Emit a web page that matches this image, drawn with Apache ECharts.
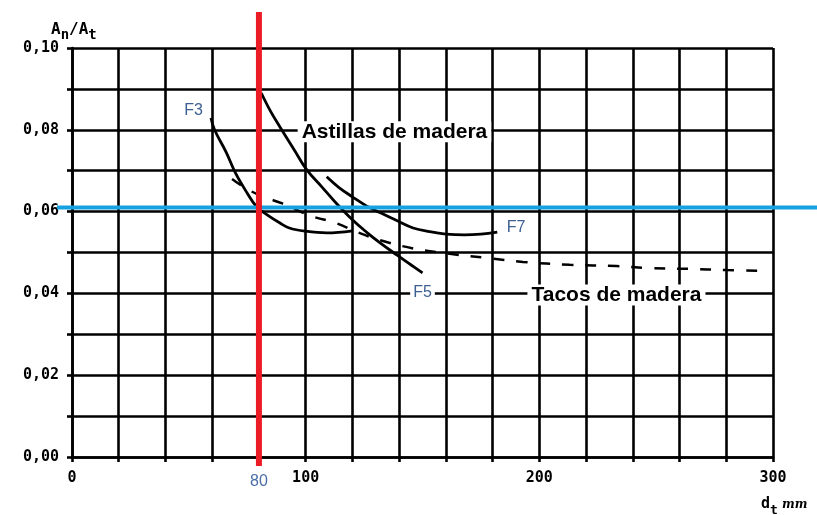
<!DOCTYPE html>
<html>
<head>
<meta charset="utf-8">
<script src="https://cdn.jsdelivr.net/npm/echarts@6/dist/echarts.min.js"></script>
<style>html,body{margin:0;padding:0;background:#fff}#c{width:817px;height:515px}</style>
</head>
<body>
<div id="c"></div>
<script>
// ---- data ----
const f3 = [[59.5,0.0829],[61,0.0800],[66,0.0745],[70,0.0694],[75,0.0645],[79,0.0612],[84,0.0590],[89,0.0572],[93,0.0560],[100,0.0552],[109,0.0548],[120,0.0553]];
const f5 = [[81,0.0890],[85,0.0845],[89,0.0807],[95,0.0752],[100.5,0.0702],[107,0.0660],[113,0.0621],[120,0.0580],[126,0.0550],[132,0.0523],[139,0.0494],[145,0.0470],[150,0.0450]];
const f7 = [[109,0.0685],[114,0.0660],[120,0.0636],[126,0.0614],[132,0.0597],[139,0.0578],[146,0.0560],[153,0.0551],[160,0.0545],[168,0.0543],[175,0.0545],[182,0.0550]];
const tacos = [[68.5,0.0680],[75,0.0655],[82,0.0636],[90,0.0620],[102,0.0590],[113,0.0572],[122,0.0550],[132,0.0530],[146,0.0510],[160,0.0498],[177,0.0487],[193,0.0477],[213,0.0470],[233,0.0467],[247,0.0462],[264,0.0460],[280,0.0457],[297,0.0455]];
const refX = 80;
const refY = 0.061;
const xTickLabels = {0:'0',100:'100',200:'200',300:'300'};
const yTickLabels = {0:'0,00',2:'0,02',4:'0,04',6:'0,06',8:'0,08',10:'0,10'};
const curveLabels = [{name:'F3',value:[52,0.0848]},{name:'F5',value:[150,0.0403]},{name:'F7',value:[190,0.0560]}];
const textLabels = [{name:'Astillas de madera',value:[138,0.0795]},{name:'Tacos de madera',value:[233,0.0396]}];

const chart = echarts.init(document.getElementById('c'));
const black = '#000';
const lineW = 2.6;
const curveStyle = {color:black,width:2.8};
const option = {
  animation:false,
  backgroundColor:'#fff',
  grid:{left:72,right:44,top:48,bottom:58,containLabel:false},
  title:[
    {left:46,top:12,text:'{a|A}{s|n}{a|/A}{s|t}',textStyle:{rich:{
      a:{fontFamily:'DejaVu Sans Mono',fontWeight:'bold',fontSize:16,color:black},
      s:{fontFamily:'DejaVu Sans Mono',fontWeight:'bold',fontSize:14,color:black,padding:[11,0,0,0]}}}},
    {left:756,top:487,text:'{a|d}{s|t}{m| mm}',textStyle:{rich:{
      a:{fontFamily:'DejaVu Sans Mono',fontWeight:'bold',fontSize:15,color:black},
      s:{fontFamily:'DejaVu Sans Mono',fontWeight:'bold',fontSize:13,color:black,padding:[12,0,0,0]},
      m:{fontFamily:'DejaVu Serif',fontStyle:'italic',fontWeight:'bold',fontSize:12,color:black}}}}
  ],
  xAxis:{type:'value',min:0,max:300,interval:20,
    axisLine:{show:true,lineStyle:{color:black,width:lineW}},
    axisTick:{show:true,length:5,lineStyle:{color:black,width:lineW}},
    splitLine:{show:true,lineStyle:{color:black,width:lineW}},
    axisLabel:{margin:14,fontFamily:'DejaVu Sans Mono',fontWeight:'bold',fontSize:15,color:black,
      formatter:v=> v===refX ? '{b|80}' : (xTickLabels[v]!==undefined ? xTickLabels[v] : ''),
      rich:{b:{color:'#4a6da6',fontFamily:'Liberation Sans',fontWeight:'normal',fontSize:16,padding:[3,0,0,0]}}}
  },
  yAxis:{type:'value',min:0,max:0.1,interval:0.01,
    axisLine:{show:true,lineStyle:{color:black,width:lineW}},
    axisTick:{show:true,length:5,lineStyle:{color:black,width:lineW}},
    splitLine:{show:true,lineStyle:{color:black,width:lineW}},
    axisLabel:{margin:13,fontFamily:'DejaVu Sans Mono',fontWeight:'bold',fontSize:15,color:black,
      formatter:v=>{const k=Math.round(v*100);return yTickLabels[k]!==undefined?yTickLabels[k]:'';}}
  },
  series:[
    {name:'F3',type:'line',data:f3,smooth:0.4,showSymbol:false,lineStyle:curveStyle,z:3},
    {name:'F5',type:'line',data:f5,smooth:0.4,showSymbol:false,lineStyle:curveStyle,z:3},
    {name:'F7',type:'line',data:f7,smooth:0.4,showSymbol:false,lineStyle:curveStyle,z:3},
    {name:'Tacos',type:'line',data:tacos,smooth:0.4,showSymbol:false,lineStyle:{color:black,width:2.5,type:[11,12]},z:3},
    {type:'scatter',data:curveLabels,symbolSize:0,z:4,silent:true,itemStyle:{opacity:1},
      label:{show:true,position:'inside',formatter:'{b}',fontFamily:'Liberation Sans',fontSize:16,color:'#3d5f91',
        textBorderWidth:0,backgroundColor:'#fff',padding:[1,3]}},
    {type:'scatter',data:textLabels,symbolSize:0,z:4,silent:true,itemStyle:{opacity:1},
      label:{show:true,position:'inside',formatter:'{b}',fontFamily:'Liberation Sans',fontWeight:'bold',fontSize:21,color:'#000',
        textBorderWidth:0,backgroundColor:'#fff',padding:[0,4]}}
  ]
};
chart.setOption(option);
const p = chart.convertToPixel({gridIndex:0},[refX,refY]);
chart.setOption({graphic:[
  {type:'line',z:100,shape:{x1:57,y1:p[1],x2:817,y2:p[1]},style:{stroke:'#16a1e0',lineWidth:4}},
  {type:'line',z:101,shape:{x1:p[0],y1:12,x2:p[0],y2:466},style:{stroke:'#ec1c26',lineWidth:6}}
]});
</script>
</body>
</html>
